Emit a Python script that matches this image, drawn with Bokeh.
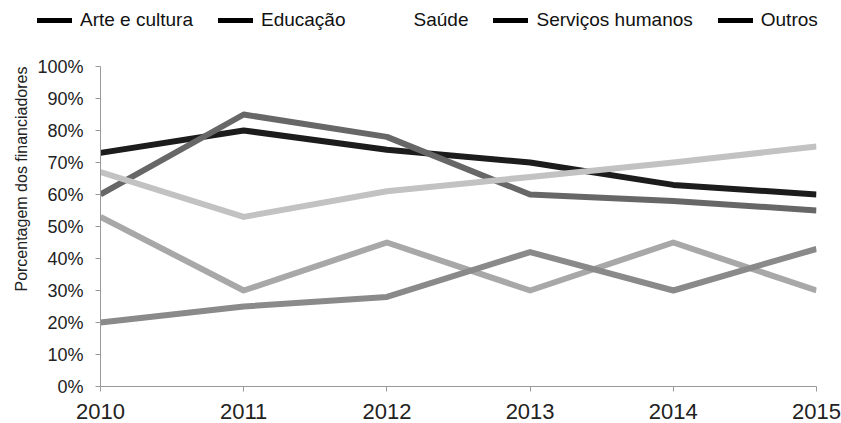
import math
from bokeh.plotting import figure
from bokeh.models import (FixedTicker, NumeralTickFormatter, Legend, LegendItem,
                          Range1d, Title)
from bokeh.embed import file_html
from bokeh.resources import INLINE

years = [2010, 2011, 2012, 2013, 2014, 2015]
arte_cultura = [0.73, 0.80, 0.74, 0.70, 0.63, 0.60]
educacao = [0.60, 0.85, 0.78, 0.60, 0.58, 0.55]
saude = [0.67, 0.53, 0.61, 0.655, 0.70, 0.75]
servicos_humanos = [0.53, 0.30, 0.45, 0.30, 0.45, 0.30]
outros = [0.20, 0.25, 0.28, 0.42, 0.30, 0.43]
series_names = ["Arte e cultura", "Educação", "Saúde", "Serviços humanos", "Outros"]
series_values = [arte_cultura, educacao, saude, servicos_humanos, outros]
line_colors = ["#1c1c1c", "#676767", "#c2c2c2", "#a8a8a8", "#8a8a8a"]
legend_colors = ["#000000", "#000000", "#ffffff", "#000000", "#000000"]
y_ticks = [i / 10 for i in range(11)]

FONT = "Liberation Sans"
LEG_H = 45

# ---- legend strip ----
lf = figure(width=841, height=LEG_H, output_backend="svg", toolbar_location=None,
            x_range=Range1d(0, 1), y_range=Range1d(0, 1),
            x_axis_location=None, y_axis_location=None,
            min_border=0, min_border_left=0, min_border_right=0,
            min_border_top=0, min_border_bottom=0)
lf.grid.visible = False
lf.outline_line_color = None
items = []
for name, col in zip(series_names, legend_colors):
    r = lf.line([math.nan], [math.nan], line_color=col, line_width=5, line_cap="round")
    items.append(LegendItem(label=name, renderers=[r]))
legend = Legend(items=items, orientation="horizontal", location=(37, 14),
                glyph_width=35, glyph_height=20, label_standoff=8, spacing=25,
                padding=0, margin=0, border_line_color=None,
                background_fill_alpha=0, label_text_font=FONT,
                label_text_font_size="19px", label_text_color="#111111")
lf.add_layout(legend, "center")

# ---- main chart ----
p = figure(width=841, height=423 - LEG_H, output_backend="svg", toolbar_location=None,
           x_range=Range1d(2010, 2015), y_range=Range1d(0, 1),
           min_border_left=100, min_border_right=25, min_border_top=66 - LEG_H,
           min_border_bottom=37)
p.outline_line_color = None
p.grid.visible = False
p.background_fill_color = "white"

for vals, col in zip(series_values, line_colors):
    p.line(years, vals, line_color=col, line_width=6, line_join="round")

yax = p.yaxis[0]
yax.ticker = FixedTicker(ticks=y_ticks)
yax.formatter = NumeralTickFormatter(format="0%")
yax.axis_line_color = "#999999"
yax.major_tick_line_color = "#999999"
yax.major_tick_out = 5
yax.major_tick_in = 0
yax.minor_tick_line_color = None
yax.major_label_text_font = FONT
yax.major_label_text_font_size = "18px"
yax.major_label_text_color = "#222222"
yax.major_label_standoff = 12

xax = p.xaxis[0]
xax.ticker = FixedTicker(ticks=years)
xax.axis_line_color = "#999999"
xax.major_tick_line_color = "#999999"
xax.major_tick_out = 5
xax.major_tick_in = 0
xax.minor_tick_line_color = None
xax.major_label_text_font = FONT
xax.major_label_text_font_size = "22px"
xax.major_label_text_color = "#222222"
xax.major_label_standoff = 12

p.add_layout(Title(text="Porcentagem dos financiadores", align="right",
                   text_font=FONT, text_font_size="16px", text_font_style="normal",
                   text_color="#222222"), "left")

open("out.html", "w").write(file_html([lf, p], INLINE))
